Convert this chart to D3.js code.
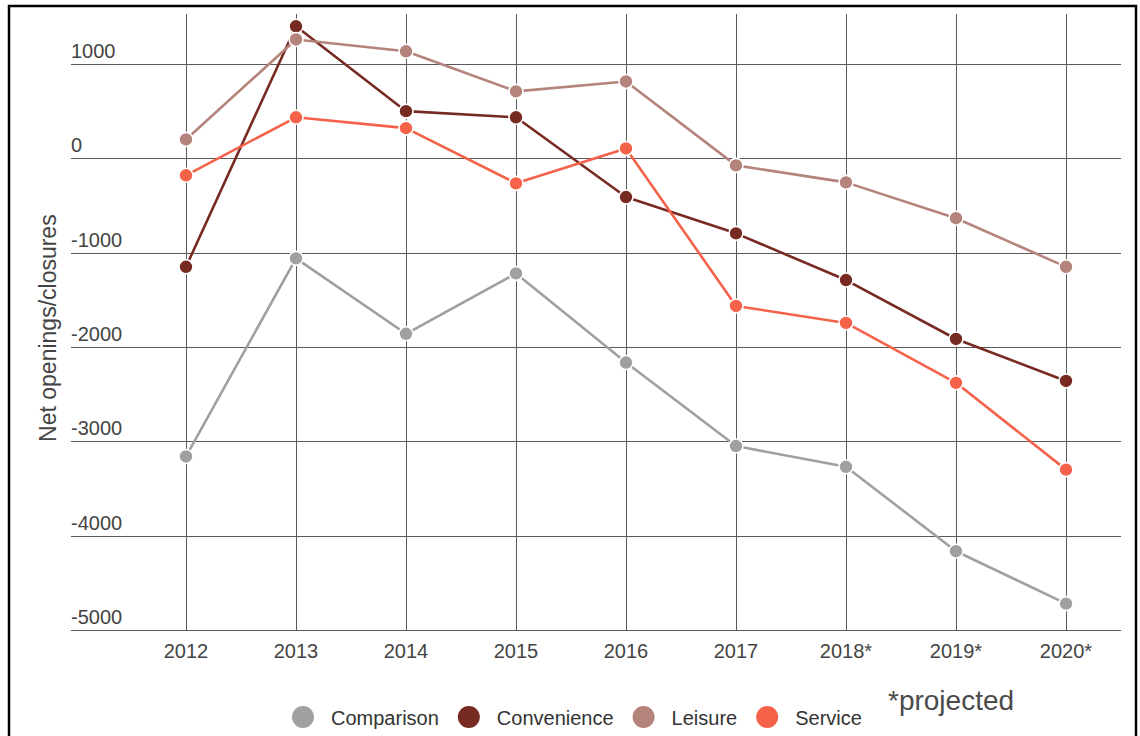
<!DOCTYPE html>
<html>
<head>
<meta charset="utf-8">
<script src="https://cdn.jsdelivr.net/npm/d3@7"></script>
<style>
  html, body { margin: 0; padding: 0; background: #fff; overflow: hidden; }
  svg { display: block; font-family: "Liberation Sans", Arial, sans-serif; }
</style>
</head>
<body>
<svg id="chart" width="1140" height="736"></svg>
<script>
// Years on the horizontal axis (starred years are projections)
const years = ["2012", "2013", "2014", "2015", "2016", "2017", "2018*", "2019*", "2020*"];

// Net openings minus closures per retail category
const comparison  = [-3160, -1060, -1860, -1220, -2165, -3050, -3270, -4165, -4720];
const convenience = [-1150, 1400, 500, 435, -410, -795, -1290, -1915, -2360];
const leisure     = [200, 1260, 1135, 710, 815, -75, -255, -635, -1150];
const service     = [-180, 435, 320, -265, 105, -1565, -1745, -2380, -3300];

const seriesNames  = ["Comparison", "Convenience", "Leisure", "Service"];
const seriesColors = ["#a0a0a0", "#772a22", "#b4837c", "#f5624a"];
const yTicks = [1000, 0, -1000, -2000, -3000, -4000, -5000];

const axisTitle = "Net openings/closures";
const footnote = "*projected";

const series = [comparison, convenience, leisure, service].map((values, i) => ({
  name: seriesNames[i],
  color: seriesColors[i],
  points: values.map((v, j) => ({ year: years[j], value: v }))
}));

const svg = d3.select("#chart");

const gridLeft = 71, gridRight = 1121, gridTop = 14;

const x = d3.scalePoint().domain(years).range([186, 1066]);
const y = d3.scaleLinear().domain([-5000, 1000]).range([630, 64]);

// Frame around the panel
svg.append("rect")
  .attr("x", 9).attr("y", 6)
  .attr("width", 1127).attr("height", 760)
  .attr("fill", "#fff")
  .attr("stroke", "#000")
  .attr("stroke-width", 2.5);

// Horizontal gridlines with labels sitting above each line
const yAxis = svg.append("g").attr("class", "y-axis");
yAxis.selectAll("line")
  .data(yTicks)
  .join("line")
  .attr("x1", gridLeft).attr("x2", gridRight)
  .attr("y1", d => Math.round(y(d)) + 0.5)
  .attr("y2", d => Math.round(y(d)) + 0.5)
  .attr("stroke", "#5a5a5a")
  .attr("stroke-width", 1);
yAxis.selectAll("text")
  .data(yTicks)
  .join("text")
  .attr("x", gridLeft)
  .attr("y", d => y(d) - 6)
  .attr("font-size", 20)
  .attr("fill", "#444")
  .text(d => String(d));

// Vertical gridlines and year labels
const xAxis = svg.append("g").attr("class", "x-axis");
xAxis.selectAll("line")
  .data(years)
  .join("line")
  .attr("x1", d => Math.round(x(d)) + 0.5)
  .attr("x2", d => Math.round(x(d)) + 0.5)
  .attr("y1", gridTop).attr("y2", y(-5000))
  .attr("stroke", "#5a5a5a")
  .attr("stroke-width", 1);
xAxis.selectAll("text")
  .data(years)
  .join("text")
  .attr("x", d => x(d))
  .attr("y", 658)
  .attr("text-anchor", "middle")
  .attr("font-size", 20)
  .attr("fill", "#444")
  .text(d => d);

// Vertical axis title
svg.append("text")
  .attr("transform", `translate(56, ${y(-1800)}) rotate(-90)`)
  .attr("text-anchor", "middle")
  .attr("font-size", 23)
  .attr("fill", "#444")
  .text(axisTitle);

// Lines and markers for each category
const line = d3.line().x(d => x(d.year)).y(d => y(d.value));

const seriesGroups = svg.append("g").selectAll("g")
  .data(series)
  .join("g");

seriesGroups.append("path")
  .attr("d", d => line(d.points))
  .attr("fill", "none")
  .attr("stroke", d => d.color)
  .attr("stroke-width", 2.6)
  .attr("stroke-linejoin", "round");

seriesGroups.each(function (s) {
  d3.select(this).selectAll("circle")
    .data(s.points)
    .join("circle")
    .attr("cx", d => x(d.year))
    .attr("cy", d => y(d.value))
    .attr("r", 7)
    .attr("fill", s.color)
    .attr("stroke", "#fff")
    .attr("stroke-width", 1.6);
});

// Legend along the bottom
const legend = svg.append("g").attr("class", "legend");
let cursor = 303;
series.forEach(s => {
  const item = legend.append("g");
  item.append("circle")
    .attr("cx", cursor).attr("cy", 717)
    .attr("r", 11)
    .attr("fill", s.color);
  const label = item.append("text")
    .attr("x", cursor + 28)
    .attr("y", 725)
    .attr("font-size", 20)
    .attr("fill", "#333")
    .text(s.name);
  const w = label.node().getComputedTextLength();
  cursor = cursor + 28 + w + 30;
});

// Footnote for projected years
svg.append("text")
  .attr("x", 888)
  .attr("y", 710)
  .attr("font-size", 28)
  .attr("fill", "#4a4a4a")
  .text(footnote);
</script>
</body>
</html>
